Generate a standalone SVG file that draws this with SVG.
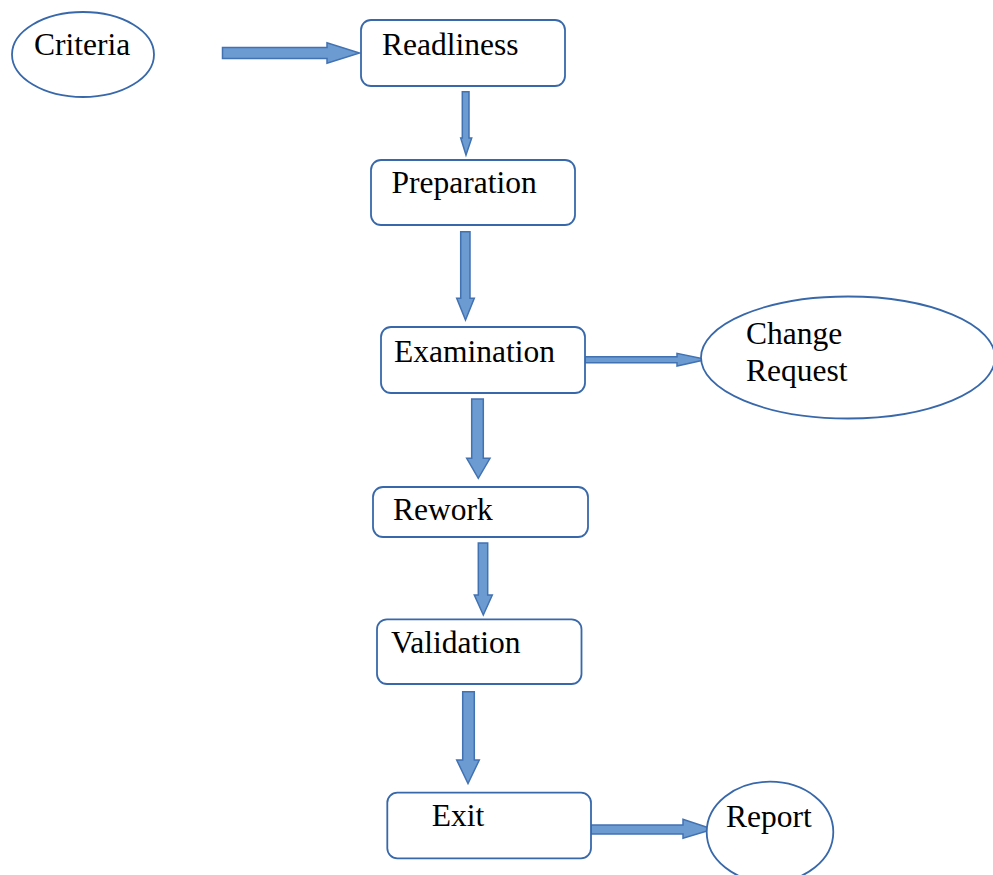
<svg xmlns="http://www.w3.org/2000/svg" width="993" height="875" viewBox="0 0 993 875">
<style>
.box{fill:#ffffff;stroke:#3868aa;stroke-width:1.8}
.arr{fill:#6b9bd1;stroke:#4272b2;stroke-width:1.5;stroke-linejoin:miter}
text{font-family:"Liberation Serif","Times New Roman",serif;font-size:31.5px;fill:#000000}
</style>
<rect width="993" height="875" fill="#ffffff"/>
<g id="connectors">
<polygon class="arr" points="222.5,47.5 327,47.5 327,42.7 359.5,53 327,63.3 327,58.5 222.5,58.5"/>
<polygon class="arr" points="462.3,91.7 469,91.7 469,138 471.7,138 466,155 460.7,138 462.3,138"/>
<polygon class="arr" points="460.7,231.7 470,231.7 470,298.3 474.3,298.3 465.5,320 456.7,298.3 460.7,298.3"/>
<polygon class="arr" points="585,356.7 677,356.7 677,353.3 706.5,359.5 677,366 677,362.7 585,362.7"/>
<polygon class="arr" points="471.7,399 483.3,399 483.3,458.3 490,458.3 478.3,478.3 466.7,458.3 471.7,458.3"/>
<polygon class="arr" points="478.3,543 487.7,543 487.7,595 492.3,595 483.3,615 474.3,595 478.3,595"/>
<polygon class="arr" points="462.7,691.7 474.3,691.7 474.3,760 479.3,760 468,783.5 456.7,760 462.7,760"/>
<polygon class="arr" points="591,825 683,825 683,819.3 713,829.3 683,838.3 683,834 591,834"/>
</g>
<g id="criteria">
<ellipse class="box" cx="83" cy="54.5" rx="71" ry="42.5"/>
<text x="34" y="55">Criteria</text>
</g>
<g id="readliness">
<rect class="box" x="361" y="20" width="204" height="66" rx="10"/>
<text x="382" y="55">Readliness</text>
</g>
<g id="preparation">
<rect class="box" x="371" y="160" width="204" height="65" rx="10"/>
<text x="391.5" y="193.3">Preparation</text>
</g>
<g id="examination">
<rect class="box" x="381" y="327" width="204" height="66" rx="10"/>
<text x="394" y="361.5">Examination</text>
</g>
<g id="change-request">
<ellipse class="box" cx="848" cy="357.5" rx="147" ry="61"/>
<text x="746" y="344">Change</text>
<text x="746" y="381">Request</text>
</g>
<g id="rework">
<rect class="box" x="373" y="487" width="215" height="50" rx="10"/>
<text x="393" y="520">Rework</text>
</g>
<g id="validation">
<rect class="box" x="377" y="619.3" width="204.5" height="64.7" rx="10"/>
<text x="391" y="653">Validation</text>
</g>
<g id="exit">
<rect class="box" x="387.3" y="792.7" width="203.7" height="65.6" rx="10"/>
<text x="431.7" y="826">Exit</text>
</g>
<g id="report">
<ellipse class="box" cx="770" cy="832" rx="63.3" ry="50.3"/>
<text x="726" y="827">Report</text>
</g>
</svg>
